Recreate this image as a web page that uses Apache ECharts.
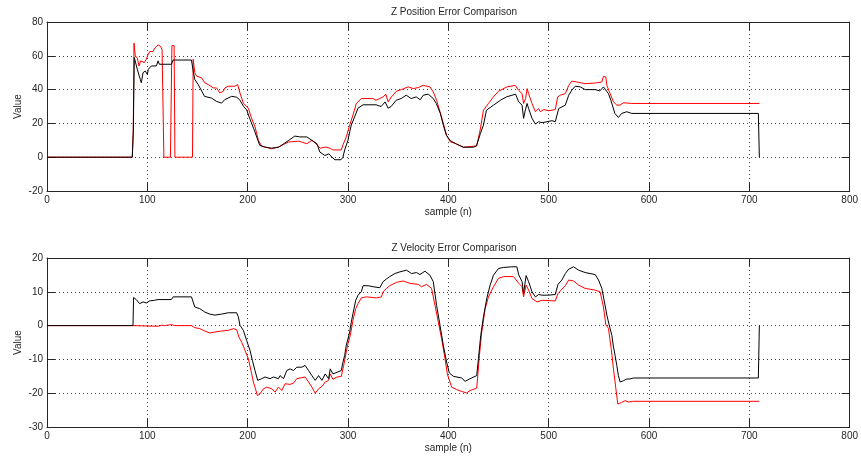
<!DOCTYPE html>
<html>
<head>
<meta charset="utf-8">
<script src="https://cdn.jsdelivr.net/npm/echarts@6/dist/echarts.min.js"></script>
<style>
html,body{margin:0;padding:0;background:#fff;}
#chart{width:861px;height:458px;}
</style>
</head>
<body>
<div id="chart"></div>
<script>
// ---- Data (sample, value) ----
const posTitle = 'Z Position Error Comparison';
const velTitle = 'Z Velocity Error Comparison';
const xLabel = 'sample (n)';
const yLabel = 'Value';

const posBlack = [[0,0],[85,0],[86,15],[87,59],[88,58],[90,52],[93,46],[94,44],[95.7,50],[98,51],[100,49],[101,52],[104,54],[109,54],[110.7,57],[112,55],[124,55],[125.7,57.5],[144,57.5],[145.7,51],[147.3,46],[150.7,43],[157,36],[164,35],[169,33],[174,32],[177,34],[184,36],[189,35.5],[192,34],[196,30],[199,28],[202,23],[206,17],[209,12],[212,7],[217,6],[224,5.3],[231,6],[236,8],[241,10],[247,12.5],[252,12],[259,12],[264,10],[269,8],[272,3],[277,1],[281,2],[284,0],[287,-1.5],[293,-1.5],[295,0],[296.7,4.3],[300,10],[301.7,15],[303.3,19],[306.7,24],[310,29],[315,31],[328,31],[333,30],[337,32.7],[340,29],[343,30],[348,33.7],[353,34.7],[358,36.7],[363,34.7],[368,35.7],[372,34],[375,36.7],[380,37.3],[385,34.7],[388,31.8],[392,26],[395,19],[398,13],[402,9.8],[408,7.8],[415,5.9],[425,5.9],[428,6.7],[432,14],[435,19],[438,27.8],[445,30.8],[452,33.7],[458,35.7],[467,37.3],[470.2,32.7],[473.5,30.8],[475,23],[476.8,28],[478.5,31.8],[480,28.8],[483.4,23],[486.8,19.6],[490,21],[493.4,20.4],[498.3,21],[503.3,21.6],[506.6,21],[510,28.8],[516.6,30.8],[520,36.7],[523,39.6],[526.5,42],[531.5,41.6],[536.4,40],[546.4,40],[551,39.2],[554.6,41.6],[556.3,42.5],[559.6,37.6],[562,33.7],[566,25.9],[569.5,23.5],[572.8,25.9],[577.8,26.9],[582.8,25.9],[709,25.9],[710,0]];

const posRed = [[0,0],[85,0],[86,16],[86.7,67.5],[88,60],[90,58.6],[91.7,54],[93.3,57],[95,58],[97,56],[99,58],[100.7,60.6],[102.3,62.5],[105.7,62.5],[107.3,64.5],[109,63.5],[110.7,66.5],[113.3,65.5],[114.7,63.5],[115.5,63.5],[116.5,0],[123,0],[124.5,66],[126.7,66],[127.5,0],[145,0],[145.7,58],[147.3,50],[149,48],[154,47],[157.3,44],[160.7,43],[165.7,41],[169,41],[172.3,38],[175.7,39],[177.3,41],[180.7,42],[187.3,42],[190,43],[192.3,38],[195.7,32],[200.7,29],[203.3,24],[207.3,18],[210.7,10],[214,6.5],[224,5],[230.7,6],[235.7,7.5],[240.7,9],[250.7,9.5],[259,8],[264,10],[269,7.5],[272.3,5.3],[277.3,6],[282.3,5.3],[285,4.3],[293.3,4.3],[295,7.3],[298.3,12],[301.7,19],[305,25],[308.3,31.8],[313.3,34.7],[325,34.7],[328,33.7],[331.7,34.7],[335,35.7],[337.7,37.3],[340,32.7],[343.3,35.7],[348.3,39],[353.3,40],[360,41.6],[365,40.6],[370,41.2],[375,42.5],[381.7,41.6],[385,38.6],[388.3,33.7],[391.7,26.9],[395,20],[398.3,13],[401.7,9.2],[408.3,7.8],[415,5.9],[428.3,6.7],[431.7,16],[435,27.8],[440,31.8],[445,35.7],[450,39],[458.3,41.6],[466.7,42.5],[470,39.6],[473.5,37.6],[475,31.8],[477,34.7],[478.5,40.6],[480,37.6],[483.4,31.8],[486.8,26.9],[490,28.8],[491.7,26.9],[495,28.2],[500,27.5],[506.6,28.2],[509,35.7],[511.7,36.7],[516.6,37.6],[520,42.5],[523,45],[528,44.5],[536.4,43.5],[546.4,43.9],[553,44.5],[554.6,47.8],[557,47.5],[558,42.5],[561.3,37.6],[564.6,32.7],[568,30.8],[571,30.8],[574.5,32.2],[582.8,31.8],[710,31.8]];

const velBlack = [[0,0],[85.7,0],[86.3,8.3],[89,7.7],[92.3,6.5],[94,6],[95.7,7],[99,6.7],[102.3,7.3],[107.3,7.5],[110.7,7.7],[124,7.7],[125.7,8.5],[144,8.5],[147.3,5.5],[152.3,5],[157.3,4],[162.3,3.4],[167.3,3.1],[174,3.4],[180.7,3.8],[189,3.8],[190.7,2.6],[192.3,0.1],[195.7,-1.4],[199,-4.4],[202.3,-7.3],[204.7,-10.3],[207.3,-13.3],[210,-16.2],[214,-15.7],[217.3,-15.2],[222.3,-15.7],[225.7,-15.2],[230.7,-15.7],[232.3,-14.8],[235.7,-15.7],[239,-13.3],[242.3,-12.8],[245.7,-13.3],[249,-12.3],[254,-12.3],[257.3,-11.8],[260.7,-13.3],[264,-14.8],[267.3,-16.2],[270.7,-14.8],[274,-16.2],[277.3,-14.3],[280.7,-15.7],[282.3,-12.8],[285,-14.3],[293.3,-13.3],[295,-10.8],[296.7,-8.8],[298.3,-5.8],[300,-3.9],[301.7,-1.9],[303.3,1.1],[305,3.6],[307.7,7.5],[310,9],[313.3,10],[315,11.8],[320,11.8],[325,11.5],[331.7,11.2],[335,13],[338.3,13.8],[341.7,14.5],[346.7,15.4],[351.7,15.9],[358.3,16.4],[363.3,15.4],[368.3,15.7],[371.7,15.1],[376.7,16.1],[381.7,14.9],[385,13],[388.3,6],[391.7,0.1],[395,-5.8],[398.3,-10.8],[401,-14],[405,-15],[413.3,-15.5],[416.7,-16.5],[421.7,-15.7],[428.3,-14.8],[430,-9.8],[432.3,-2.9],[435,2.6],[438.3,8],[441.7,12],[445,14.9],[450,16.9],[455,17.2],[463.3,17.4],[468.3,17.4],[470.2,15],[473.5,13],[475,9.5],[477.5,14.8],[480,13],[483.4,10],[486.8,8.5],[490,9.2],[493.4,9],[500,9],[506.6,9.2],[509.3,12.2],[513.2,13.5],[516.6,15.4],[520,16.7],[524.8,17.4],[529.8,16.4],[536.4,15.7],[546.4,15.1],[549.7,13.5],[553,11],[555.6,7],[558,3.1],[560.3,0.2],[563,-2.9],[564.6,-6.3],[566.2,-8.8],[567.9,-11.8],[569.5,-14.8],[571.2,-16.7],[574.5,-16.3],[577.8,-15.8],[581,-15.8],[584.4,-15.5],[709,-15.5],[710,0]];

const velRed = [[0,0],[85.7,0],[87,-0.2],[110.7,-0.2],[114,0.1],[115.7,0.6],[117.3,0],[124,0.3],[125.7,0.8],[127.3,0],[144,0],[147.3,-0.6],[152.3,-0.9],[157.3,-1.6],[162.3,-2.2],[167.3,-1.9],[174,-1.6],[180.7,-1.4],[185.7,-0.9],[189,-1.2],[191.3,-3.4],[194,-4.9],[197.3,-7.3],[200.7,-9.8],[203.3,-13.3],[205.7,-16.7],[207.3,-18.2],[209.7,-20.7],[212.3,-20.2],[215.7,-18.7],[219,-18.2],[224,-18.7],[227.3,-19.7],[230.7,-18.2],[234,-19.2],[237.3,-17.2],[242.3,-17.4],[245.7,-17],[249,-15.7],[254,-15.4],[257.3,-15.2],[260.7,-16.7],[264,-18.2],[267.3,-20],[270.7,-18.7],[274,-18],[277.3,-16.7],[280.7,-16.2],[282.3,-14.3],[285,-15.9],[288.3,-15.3],[293.3,-15],[295.7,-11.8],[298.3,-7.8],[300,-5.3],[302.3,-2.9],[305,1.6],[307.7,5],[310,6.5],[313.3,8.2],[318.3,8.5],[328.3,8.2],[333.3,8.5],[335,10],[338.3,11],[341.7,11.8],[348.3,12.8],[355,13.2],[361.7,12.5],[370,12.2],[373.3,11.5],[378.3,12.2],[383.3,11],[386.7,6],[390,1.1],[393.3,-3.9],[396.7,-9.8],[399,-14.3],[403.3,-18.2],[408.3,-18.9],[413.3,-19.5],[418.3,-19.9],[421.7,-19.2],[428.3,-18.5],[431,-8.8],[433.3,-1.9],[436.7,5],[440,8.5],[445,11.5],[450,14],[455,14.5],[465,14.5],[470.2,12.5],[473.5,11.5],[475,8.5],[477.5,12],[480,10.5],[483.4,8],[488.4,7],[493.4,7.5],[506.6,7.3],[509.3,9.5],[516.6,11.8],[520,13.5],[524.8,13.2],[529.8,12],[536.4,11],[546.4,10.5],[551.3,10],[554.6,5.5],[557,0.2],[559.6,-0.8],[562.3,-6.7],[564.6,-12.8],[567,-18.7],[568.9,-23.2],[572.8,-22.7],[576.2,-22.2],[579.5,-22.6],[584.4,-22.4],[710,-22.4]];

const xRange = {min: 0, max: 800, interval: 100};
const posRange = {min: -20, max: 80, interval: 20};
const velRange = {min: -30, max: 20, interval: 10};

// ---- Styling ----
const FONT = 'Liberation Sans, Arial, sans-serif';
const TXT = '#262626';
const AX = '#262626';
const gridLine = {show: true, lineStyle: {color: '#444', width: 1, type: [1, 3]}};

function xAxisPair(gridIndex, withName) {
  return [
    {
      type: 'value', gridIndex, position: 'bottom', ...xRange,
      axisLine: {show: true, onZero: false, lineStyle: {color: AX, width: 1}},
      axisTick: {show: true, inside: true, length: 8, lineStyle: {color: AX}},
      axisLabel: {show: true, color: TXT, fontSize: 10, fontFamily: FONT, margin: 4},
      splitLine: gridLine,
      name: withName ? xLabel : '', nameLocation: 'middle', nameGap: 16,
      nameMoveOverlap: false,
      nameTextStyle: {color: TXT, fontSize: 10, fontFamily: FONT}
    },
    {
      type: 'value', gridIndex, position: 'top', ...xRange,
      axisLine: {show: true, onZero: false, lineStyle: {color: AX, width: 1}},
      axisTick: {show: true, inside: true, length: 8, lineStyle: {color: AX}},
      axisLabel: {show: false}, splitLine: {show: false}
    }
  ];
}
function yAxisPair(gridIndex, range) {
  return [
    {
      type: 'value', gridIndex, position: 'left', ...range,
      axisLine: {show: true, onZero: false, lineStyle: {color: AX, width: 1}},
      axisTick: {show: true, inside: true, length: 8, lineStyle: {color: AX}},
      axisLabel: {show: true, color: TXT, fontSize: 10, fontFamily: FONT, margin: 4},
      splitLine: gridLine,
      name: yLabel, nameLocation: 'middle', nameGap: 24, nameRotate: 90,
      nameMoveOverlap: false,
      nameTextStyle: {color: TXT, fontSize: 10, fontFamily: FONT}
    },
    {
      type: 'value', gridIndex, position: 'right', ...range,
      axisLine: {show: true, onZero: false, lineStyle: {color: AX, width: 1}},
      axisTick: {show: true, inside: true, length: 8, lineStyle: {color: AX}},
      axisLabel: {show: false}, splitLine: {show: false}
    }
  ];
}
function line(data, color, xi, yi) {
  return {
    type: 'line', data, xAxisIndex: xi, yAxisIndex: yi,
    showSymbol: false, symbol: 'none', silent: true,
    lineStyle: {color, width: 1}, z: color === '#ff0000' ? 2 : 3
  };
}

const chart = echarts.init(document.getElementById('chart'), null, {renderer: 'canvas'});
chart.setOption({
  animation: false,
  backgroundColor: '#fff',
  title: [
    {text: posTitle, left: 449, top: 2, textAlign: 'center',
     textStyle: {color: TXT, fontSize: 10, fontWeight: 'normal', fontFamily: FONT}},
    {text: velTitle, left: 449, top: 238, textAlign: 'center',
     textStyle: {color: TXT, fontSize: 10, fontWeight: 'normal', fontFamily: FONT}}
  ],
  grid: [
    {left: 47, right: 9, top: 22, height: 169},
    {left: 47, right: 9, top: 258, height: 169}
  ],
  xAxis: [...xAxisPair(0, true), ...xAxisPair(1, true)],
  yAxis: [...yAxisPair(0, posRange), ...yAxisPair(1, velRange)],
  series: [
    line(posRed, '#ff0000', 0, 0),
    line(posBlack, '#000000', 0, 0),
    line(velRed, '#ff0000', 2, 2),
    line(velBlack, '#000000', 2, 2)
  ]
});
</script>
</body>
</html>
